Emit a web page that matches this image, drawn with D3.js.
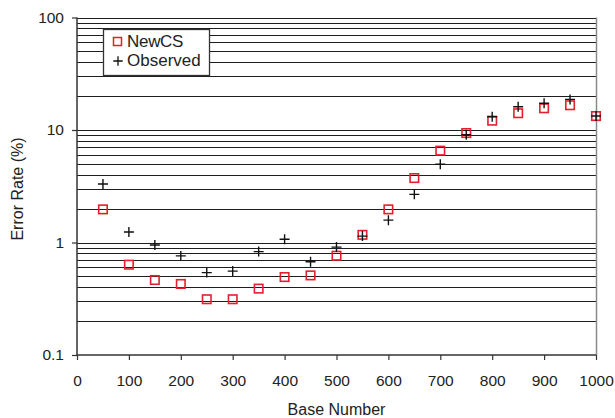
<!DOCTYPE html>
<html>
<head>
<meta charset="utf-8">
<script src="https://cdn.jsdelivr.net/npm/d3@7"></script>
<style>
  body { margin: 0; background: #fff; }
  text { font-family: "Liberation Sans", Arial, sans-serif; fill: #222; }
</style>
</head>
<body>
<svg id="chart" width="615" height="418"></svg>
<script>
// base positions along the read
var baseNumbers = [50, 100, 150, 200, 250, 300, 350, 400, 450, 500, 550, 600, 650, 700, 750, 800, 850, 900, 950, 1000];
// predicted error rate (%)
var newCS = [1.97, 0.635, 0.464, 0.428, 0.313, 0.313, 0.389, 0.493, 0.51, 0.763, 1.17, 1.97, 3.74, 6.55, 9.4, 12.1, 14.1, 15.6, 16.6, 13.3];
// observed error rate (%)
var observed = [3.31, 1.24, 0.95, 0.76, 0.54, 0.557, 0.83, 1.07, 0.675, 0.91, 1.14, 1.58, 2.68, 4.96, 9.08, 13.1, 16.1, 17.3, 18.7, 13.3];
var xTicks = [0, 100, 200, 300, 400, 500, 600, 700, 800, 900, 1000];
var yTicks = [0.1, 1, 10, 100];
var seriesNames = ["NewCS", "Observed"];

var svg = d3.select("#chart");
// plot box (window.top is reserved, so keep these in an object)
var box = { left: 77, right: 596, top: 17.5, bottom: 355 };

var x = d3.scaleLinear().domain([0, 1000]).range([box.left, box.right]);
var y = d3.scaleLog().domain([0.1, 100]).range([box.bottom, box.top]);

// horizontal grid at every minor step of each decade
var gridVals = [];
[0.1, 1, 10].forEach(function(d) {
  for (var k = 2; k <= 10; k++) gridVals.push(d * k);
});
svg.append("g").selectAll("line").data(gridVals).enter().append("line")
  .attr("x1", box.left).attr("x2", box.right)
  .attr("y1", function(d) { return Math.round(y(d)) + 0.5; })
  .attr("y2", function(d) { return Math.round(y(d)) + 0.5; })
  .attr("stroke", "#1e1e1e").attr("stroke-width", 1);

// right border
svg.append("line").attr("x1", box.right + 0.5).attr("x2", box.right + 0.5)
  .attr("y1", box.top).attr("y2", box.bottom).attr("stroke", "#8a8a8a").attr("stroke-width", 1.5);

// axes
var yAxis = d3.axisLeft(y).tickValues(yTicks).tickFormat(d3.format("~g")).tickSize(5).tickPadding(8);
var gy = svg.append("g").attr("transform", "translate(" + box.left + ",0)").call(yAxis);
var xAxis = d3.axisBottom(x).tickValues(xTicks).tickFormat(d3.format("d")).tickSize(5).tickPadding(15);
var gx = svg.append("g").attr("transform", "translate(0," + box.bottom + ")").call(xAxis);
[gx, gy].forEach(function(g) {
  g.select(".domain").attr("stroke", "#333").attr("stroke-width", 1.5);
  g.selectAll(".tick line").attr("stroke", "#333").attr("stroke-width", 1.2);
  g.selectAll(".tick text").style("font-size", "15.5px").attr("fill", "#222");
});
gx.select(".domain").attr("d", "M" + box.left + ",0H" + box.right);
gy.select(".domain").attr("d", "M0," + box.top + "V" + box.bottom);

// axis titles
svg.append("text").attr("x", (box.left + box.right) / 2).attr("y", 415)
  .attr("text-anchor", "middle").style("font-size", "16px").text("Base Number");
svg.append("text").attr("transform", "translate(23,189) rotate(-90)")
  .attr("text-anchor", "middle").style("font-size", "16px").text("Error Rate (%)");

// markers
var sq = 8.5;
svg.append("g").selectAll("rect").data(baseNumbers).enter().append("rect")
  .attr("x", function(d) { return x(d) - sq / 2; })
  .attr("y", function(d, i) { return y(newCS[i]) - sq / 2; })
  .attr("width", sq).attr("height", sq)
  .attr("fill", "none").attr("stroke", "#e3202c").attr("stroke-width", 1.6);

var plus = function(cx, cy, h) {
  return "M" + (cx - h) + "," + cy + "H" + (cx + h) + "M" + cx + "," + (cy - h) + "V" + (cy + h);
};
svg.append("g").selectAll("path").data(baseNumbers).enter().append("path")
  .attr("d", function(d, i) { return plus(x(d), y(observed[i]), 5); })
  .attr("stroke", "#111").attr("stroke-width", 1.4).attr("fill", "none");

// legend
var lg = svg.append("g");
lg.append("rect").attr("x", 103.5).attr("y", 29.5).attr("width", 106).attr("height", 46)
  .attr("fill", "#fff").attr("stroke", "#333").attr("stroke-width", 1.3);
lg.append("rect").attr("x", 113.5).attr("y", 37.5).attr("width", 8).attr("height", 8)
  .attr("fill", "none").attr("stroke", "#e3202c").attr("stroke-width", 1.5);
lg.append("path").attr("d", plus(118, 61, 4.7)).attr("stroke", "#111").attr("stroke-width", 1.3);
lg.append("text").attr("x", 127).attr("y", 46.5).style("font-size", "17px").style("letter-spacing", "-0.3px").text(seriesNames[0]);
lg.append("text").attr("x", 127).attr("y", 65.5).style("font-size", "17px").text(seriesNames[1]);
</script>
</body>
</html>
